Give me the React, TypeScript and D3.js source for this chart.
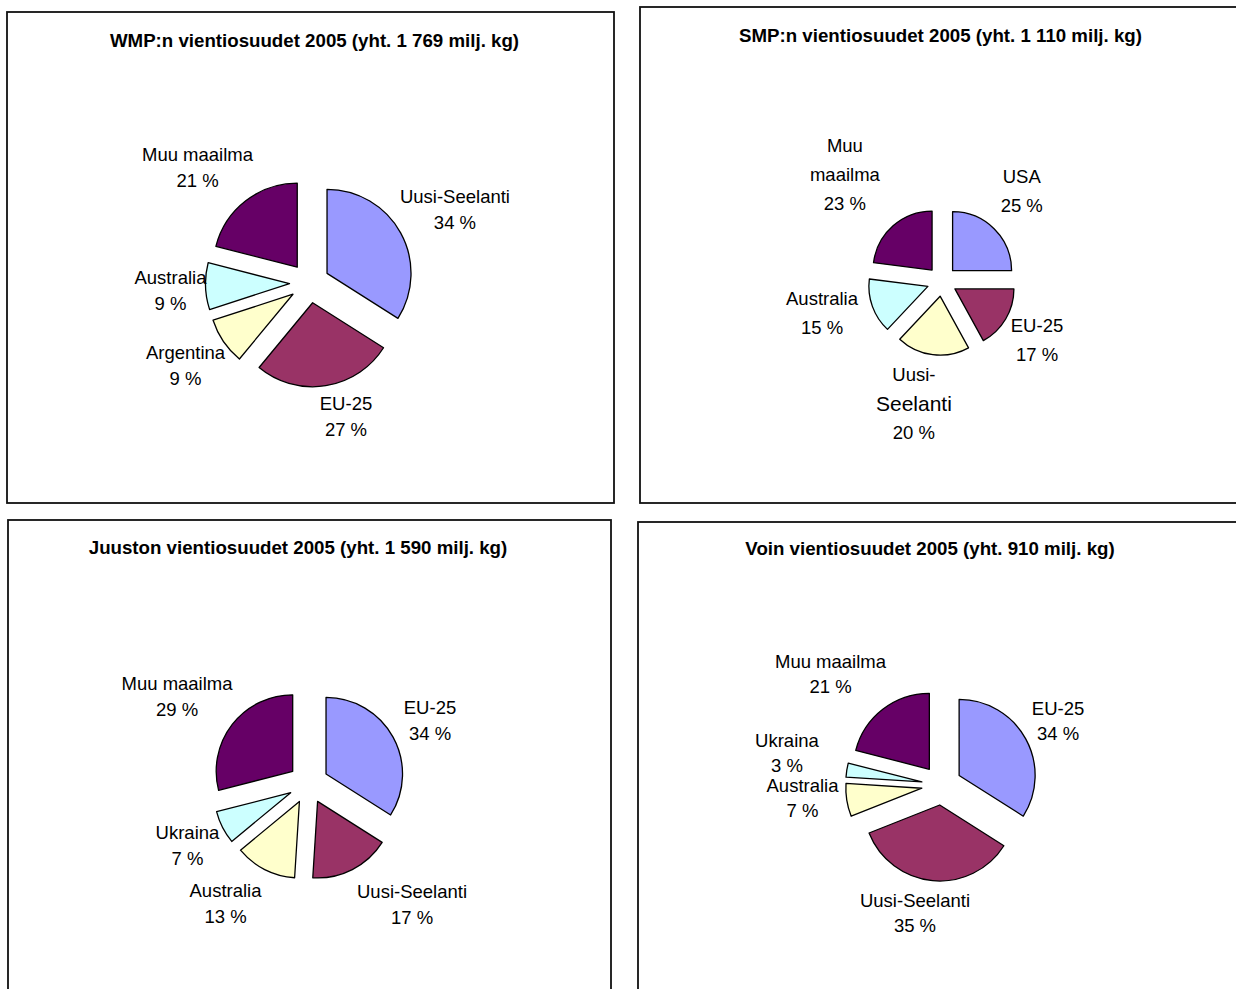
import React from "react";
import * as d3 from "d3";

// ---------- DATA ----------
const titles = [
  "WMP:n vientiosuudet 2005 (yht. 1 769 milj. kg)",
  "SMP:n vientiosuudet 2005 (yht. 1 110 milj. kg)",
  "Juuston vientiosuudet 2005 (yht. 1 590  milj. kg)",
  "Voin vientiosuudet 2005 (yht. 910 milj. kg)",
];

const wmpCategories = ["Uusi-Seelanti", "EU-25", "Argentina", "Australia", "Muu maailma"];
const wmpValues = [34, 27, 9, 9, 21];

const smpCategories = ["USA", "EU-25", "Uusi-Seelanti", "Australia", "Muu maailma"];
const smpValues = [25, 17, 20, 15, 23];

const cheeseCategories = ["EU-25", "Uusi-Seelanti", "Australia", "Ukraina", "Muu maailma"];
const cheeseValues = [34, 17, 13, 7, 29];

const butterCategories = ["EU-25", "Uusi-Seelanti", "Australia", "Ukraina", "Muu maailma"];
const butterValues = [34, 35, 7, 3, 21];

// ---------- STYLE / LAYOUT ----------
const sliceColors = ["#9999FF", "#993366", "#FFFFCC", "#CCFFFF", "#660066"];
const FONT = "'Liberation Sans', Arial, Helvetica, sans-serif";

type Layout = {
  frame: [number, number, number, number];
  title: [number, number];
  cx: number;
  cy: number;
  r: number;
  explode: number;
  lh: number;
  labelPolar: [number, number][]; // [angle offset deg from bisector, radius factor]
  wrap?: Record<string, string[]>;
  bigLines?: string[];
};

const layouts: Layout[] = [
  {
    frame: [7, 12, 607, 491],
    title: [314.5, 40],
    cx: 309.5, cy: 283, r: 84, explode: 20, lh: 26,
    labelPolar: [[2.0, 1.94], [-6.24, 1.653], [0.56, 1.773], [-1.1, 1.657], [-6.44, 1.911]],
  },
  {
    frame: [640, 7, 620, 496],
    title: [940.5, 35],
    cx: 942, cy: 281.3, r: 59, explode: 15, lh: 29,
    labelPolar: [[-3.5, 2.04], [1.3, 1.897], [5.8, 2.117], [4.8, 2.105], [-1.0, 2.44]],
    wrap: { "Muu maailma": ["Muu", "maailma"], "Uusi-Seelanti": ["Uusi-", "Seelanti"] },
    bigLines: ["Seelanti"],
  },
  {
    frame: [8, 520, 603, 490],
    title: [298, 547],
    cx: 308.5, cy: 783.6, r: 76.5, explode: 20, lh: 26,
    labelPolar: [[1.54, 1.787], [-13.68, 2.076], [7.58, 1.911], [0.1, 1.774], [-4.13, 2.065]],
  },
  {
    frame: [638, 522, 620, 490],
    title: [930, 548],
    cx: 941.6, cy: 785.1, r: 76, explode: 20, lh: 25,
    labelPolar: [[-0.04, 1.749], [6.35, 1.719], [3.7, 1.838], [2.73, 2.078], [-7.2, 2.067]],
  },
];

const panelData = [
  { cats: wmpCategories, vals: wmpValues },
  { cats: smpCategories, vals: smpValues },
  { cats: cheeseCategories, vals: cheeseValues },
  { cats: butterCategories, vals: butterValues },
];

function Pie({ idx }: { idx: number }) {
  const L = layouts[idx];
  const { cats, vals } = panelData[idx];
  const items = cats.map((c, i) => ({ c, v: vals[i], i }));
  const pie = d3
    .pie<{ c: string; v: number; i: number }>()
    .sort(null)
    .value((d) => d.v)
    .startAngle(0)
    .endAngle(2 * Math.PI);
  const arcs = pie(items);
  const arc = d3.arc<d3.PieArcDatum<any>>().innerRadius(0).outerRadius(L.r);
  const [fx, fy, fw, fh] = L.frame;

  return (
    <g>
      <rect x={fx} y={fy} width={fw} height={fh} fill="#fff" stroke="#111" strokeWidth={1.8} />
      <text
        x={L.title[0]}
        y={L.title[1]}
        textAnchor="middle"
        dominantBaseline="central"
        fontFamily={FONT}
        fontWeight="bold"
        fontSize={18.7}
        fill="#000"
      >
        {titles[idx]}
      </text>
      {arcs.map((a, i) => {
        const mid = (a.startAngle + a.endAngle) / 2;
        const ox = L.cx + Math.sin(mid) * L.explode;
        const oy = L.cy - Math.cos(mid) * L.explode;
        return (
          <path
            key={"s" + i}
            d={arc(a) || ""}
            transform={`translate(${ox},${oy})`}
            fill={sliceColors[i]}
            stroke="#000"
            strokeWidth={1.3}
            strokeLinejoin="round"
          />
        );
      })}
      {arcs.map((a, i) => {
        const mid = (a.startAngle + a.endAngle) / 2;
        const [dDeg, k] = L.labelPolar[i];
        const th = mid + (dDeg * Math.PI) / 180;
        const lx = L.cx + Math.sin(th) * k * L.r;
        const ly = L.cy - Math.cos(th) * k * L.r;
        const name = a.data.c;
        const lines = [...(L.wrap && L.wrap[name] ? L.wrap[name] : [name]), `${a.data.v} %`];
        const n = lines.length;
        return (
          <g key={"l" + i}>
            {lines.map((t, j) => (
              <text
                key={j}
                x={lx}
                y={ly + (j - (n - 1) / 2) * L.lh}
                textAnchor="middle"
                dominantBaseline="central"
                fontFamily={FONT}
                fontSize={L.bigLines && L.bigLines.includes(t) ? 21 : 18.5}
                fill="#000"
              >
                {t}
              </text>
            ))}
          </g>
        );
      })}
    </g>
  );
}

export default function App() {
  return (
    <svg
      width={1236}
      height={989}
      viewBox="0 0 1236 989"
      style={{ position: "absolute", left: 0, top: 0, display: "block", background: "#fff" }}
    >
      <rect x={0} y={0} width={1236} height={989} fill="#fff" />
      {layouts.map((_, i) => (
        <Pie key={i} idx={i} />
      ))}
    </svg>
  );
}
